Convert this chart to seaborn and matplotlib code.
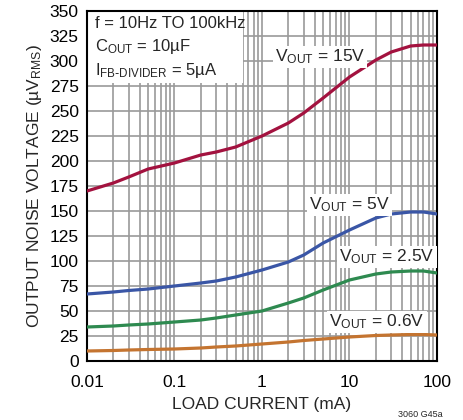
import numpy as np
import pandas as pd
import matplotlib
matplotlib.use("Agg")
import matplotlib.pyplot as plt
import matplotlib.ticker as mticker
from matplotlib.patches import Rectangle
import seaborn as sns

# load current (mA)
load_ma = [0.01, 0.02, 0.03, 0.05, 0.1, 0.2, 0.3, 0.5, 1, 2, 3, 5, 10, 20, 30, 50, 70, 100]

# output noise (uV RMS)
noise_15v = [170, 178, 184, 192, 198, 206, 209, 214, 225, 238, 248, 263, 284, 301, 309, 315, 316, 316]
noise_5v = [67, 69, 70.5, 72, 75, 78, 80, 84, 91, 99, 106, 118, 131, 143, 147, 149, 149, 147]
noise_2v5 = [34, 35, 36, 37, 39, 41, 43, 46, 50, 58, 63, 71, 81, 87, 89, 90, 90, 88]
noise_0v6 = [10, 10.5, 11, 11.5, 12, 13, 14, 15, 17, 19, 20.5, 22, 24, 25.5, 26, 26.5, 26.5, 26]

series_names = ["15V", "5V", "2.5V", "0.6V"]
series_colors = ["#a3123f", "#3a56a6", "#2e8a50", "#c47430"]
yticks = list(range(0, 351, 25))
xticks = [0.01, 0.1, 1, 10, 100]
xtick_labels = ["0.01", "0.1", "1", "10", "100"]

df = pd.DataFrame({
    "load": load_ma * 4,
    "noise": noise_15v + noise_5v + noise_2v5 + noise_0v6,
    "vout": sum([[n] * len(load_ma) for n in series_names], []),
})

sns.set_theme(style="white")
plt.rcParams["font.family"] = ["Liberation Sans Narrow", "Liberation Sans", "DejaVu Sans"]
plt.rcParams["mathtext.fontset"] = "custom"
plt.rcParams["mathtext.rm"] = "Liberation Sans Narrow"
plt.rcParams["mathtext.it"] = "Liberation Sans Narrow"

fig = plt.figure(figsize=(4.64, 4.20), dpi=100)
ax = fig.add_axes([87 / 464, 1 - 361 / 420, 350 / 464, 350 / 420])

sns.lineplot(data=df, x="load", y="noise", hue="vout", palette=series_colors,
             linewidth=2.3, legend=False, ax=ax, zorder=3)

ax.set_xscale("log")
ax.set_xlim(0.01, 100)
ax.set_ylim(0, 350)
ax.set_yticks(yticks)
ax.set_xticks(xticks)
ax.set_xticklabels(xtick_labels)
ax.xaxis.set_minor_locator(mticker.LogLocator(base=10, subs=np.arange(2, 10)))
ax.xaxis.set_minor_formatter(mticker.NullFormatter())
ax.grid(True, which="both", color="#9a9a9a", linewidth=1.2)
ax.set_axisbelow(True)
ax.tick_params(axis="both", which="both", length=0, labelsize=12.5, colors="black")
ax.tick_params(axis="x", pad=10)
ax.tick_params(axis="y", pad=6)
for s in ax.spines.values():
    s.set_color("black")
    s.set_linewidth(1.5)

ax.set_xlabel("LOAD CURRENT (mA)", fontsize=12.5, labelpad=5)
ax.set_ylabel(r"OUTPUT NOISE VOLTAGE (µV$\mathregular{_{RMS}}$)", fontsize=12.5, labelpad=4)

# white box behind conditions text
ax.add_patch(Rectangle((0, 278 / 350), 156 / 350, 72 / 350, transform=ax.transAxes,
                       facecolor="white", edgecolor="none", zorder=2))
ax.text(0.01234, 338, "f = 10Hz TO 100kHz", fontsize=12, va="center", zorder=4)
ax.text(0.01234, 314, r"C$\mathregular{_{OUT}}$ = 10µF", fontsize=12, va="center", zorder=4)
ax.text(0.01234, 291, r"I$\mathregular{_{FB\text{-}DIVIDER}}$ = 5µA", fontsize=12, va="center", zorder=4)

label_pos = [(4.6, 304), (10.1, 156), (26.8, 104), (20.6, 39)]
for name, (lx, ly) in zip(series_names, label_pos):
    ax.text(lx, ly, r"V$\mathregular{_{OUT}}$ = " + name, fontsize=12.5, ha="center", va="center",
            zorder=4, bbox=dict(facecolor="white", edgecolor="none", pad=1.5))

fig.text(0.955, 0.002, "3060 G45a", fontsize=6.5, ha="right", va="bottom")

fig.savefig("out.png", dpi=100)
